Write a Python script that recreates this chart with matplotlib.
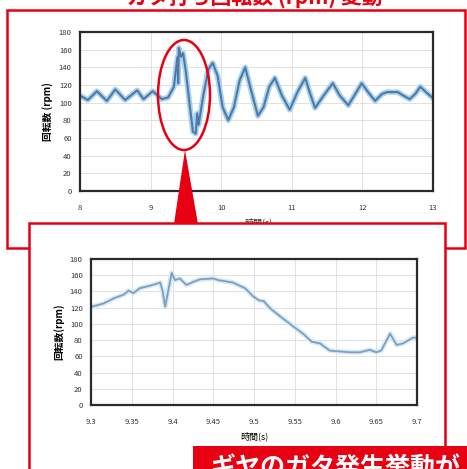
import matplotlib
matplotlib.use("Agg")
import matplotlib.pyplot as plt
from matplotlib.patches import Rectangle, Ellipse, Polygon
from matplotlib.transforms import Affine2D

plt.rcParams['font.family'] = ['Noto Sans CJK JP', 'DejaVu Sans']

# whole run 8 - 13 s
top_t = [8.0, 8.11, 8.24, 8.38, 8.5, 8.64, 8.81, 8.9, 9.03, 9.16, 9.25, 9.33,
         9.37, 9.385, 9.39, 9.40, 9.43, 9.46, 9.5, 9.55, 9.6, 9.64, 9.66, 9.68,
         9.7, 9.75, 9.82, 9.88, 9.95, 10.02, 10.1, 10.18, 10.26, 10.34, 10.42,
         10.52, 10.6, 10.68, 10.76, 10.86, 10.97, 11.08, 11.19, 11.26, 11.33,
         11.45, 11.58, 11.68, 11.8, 11.9, 11.99, 12.08, 12.18, 12.28, 12.35,
         12.5, 12.58, 12.67, 12.75, 12.82, 12.9, 13.0]
top_v = [108, 103, 113, 102, 115, 103, 114, 104, 113, 104, 106, 118,
         145, 152, 122, 162, 152, 156, 135, 100, 67, 65, 88, 75,
         85, 110, 138, 145, 130, 95, 80, 95, 125, 140, 115,
         85, 95, 118, 128, 108, 92, 112, 128, 110, 94,
         108, 122, 108, 97, 110, 122, 112, 102, 110, 112,
         112, 108, 104, 110, 118, 112, 105]

# zoom 9.3 - 9.7 s
zoom_t = [9.3, 9.315, 9.329, 9.34, 9.346, 9.352, 9.36, 9.372, 9.379, 9.385,
          9.388, 9.391, 9.399, 9.403, 9.409, 9.417, 9.426, 9.434, 9.45, 9.456,
          9.474, 9.489, 9.499, 9.506, 9.512, 9.52, 9.53, 9.548, 9.56, 9.571,
          9.581, 9.593, 9.618, 9.63, 9.642, 9.65, 9.656, 9.667, 9.675, 9.683,
          9.695, 9.7]
zoom_v = [121, 125, 132, 136, 141, 138, 144, 147, 149, 151,
          140, 121, 163, 154, 156, 148, 152, 155, 156, 154,
          151, 144, 134, 129, 128, 119, 111, 97, 88, 78,
          76, 67, 65, 65, 68, 65, 67, 88, 74, 76,
          83, 83]

top_xticks = [8, 9, 10, 11, 12, 13]
zoom_xticks = [9.3, 9.35, 9.4, 9.45, 9.5, 9.55, 9.6, 9.65, 9.7]
zoom_xlabels = ['9.3', '9.35', '9.4', '9.45', '9.5', '9.55', '9.6', '9.65', '9.7']
yticks = list(range(0, 181, 20))

RED = '#e60012'
W, H = 467, 469
fig = plt.figure(figsize=(W / 100, H / 100), dpi=100)
px = Affine2D().scale(1 / W, -1 / H).translate(0, 1) + fig.transFigure


def box(l, t, r, b):
    return [l / W, 1 - b / H, (r - l) / W, (b - t) / H]


def style(ax, xlim):
    ax.set_xlim(*xlim)
    ax.set_ylim(0, 180)
    ax.set_yticks(yticks)
    ax.grid(True, color='#dcdcdc', lw=0.6)
    ax.tick_params(length=0, labelsize=5.5, colors='#333333')
    ax.tick_params(axis='x', pad=9)
    ax.tick_params(axis='y', pad=6)
    for s in ax.spines.values():
        s.set_color('#2a2a2a')
        s.set_linewidth(1.6)


# title peeking at the top
fig.text(255 / W, 1 - 8 / H, 'ガタ打ち回転数 (rpm) 変動', color=RED, fontsize=15,
         fontweight='bold', ha='center', va='bottom', zorder=1)

fig.patches.append(Rectangle((7, 10), 458, 238, transform=px, fc='white',
                             ec=RED, lw=1.8, zorder=-2))

ax1 = fig.add_axes(box(80, 32, 433, 191), zorder=0)
ax1.plot(top_t, top_v, color='#a9d1f0', lw=4, solid_joinstyle='round')
ax1.plot(top_t, top_v, color='#4e7aa3', lw=1.5, solid_joinstyle='round')
style(ax1, (8, 13))
ax1.set_xticks(top_xticks)
ax1.set_ylabel('回転数 (rpm)', fontsize=7, fontweight='bold', labelpad=4)
# x label half hidden behind the zoom frame
fig.text(258 / W, 1 - 222 / H, '時間(s)', fontsize=6.5, color='#333333',
         ha='center', va='center', zorder=1)

fig.patches.append(Ellipse((184, 95), 52, 110, transform=px, fill=False,
                           ec=RED, lw=1.8, zorder=3))
fig.patches.append(Polygon([(185, 150), (174, 224), (198, 224)], transform=px,
                           closed=True, fc=RED, ec='none', zorder=3))

fig.patches.append(Rectangle((29, 223), 416, 260, transform=px, fc='white',
                             ec=RED, lw=1.8, zorder=4))

ax2 = fig.add_axes(box(91, 259, 417, 405), zorder=5)
ax2.plot(zoom_t, zoom_v, color='#d6e9f8', lw=3.5, solid_joinstyle='round')
ax2.plot(zoom_t, zoom_v, color='#7d9fbf', lw=1.3, solid_joinstyle='round')
style(ax2, (9.3, 9.7))
ax2.set_xticks(zoom_xticks)
ax2.set_xticklabels(zoom_xlabels)
ax2.set_ylabel('回転数(rpm)', fontsize=7, fontweight='bold', labelpad=4)
ax2.set_xlabel('時間(s)', fontsize=6.5, labelpad=4)

fig.patches.append(Rectangle((193, 446), 280, 30, transform=px, fc=RED,
                             ec='none', zorder=6))
fig.text(210 / W, 1 - 456 / H, 'ギヤのガタ発生挙動が', color='white', fontsize=18,
         fontweight='bold', ha='left', va='top', zorder=7)

fig.savefig('out.png', dpi=100)
